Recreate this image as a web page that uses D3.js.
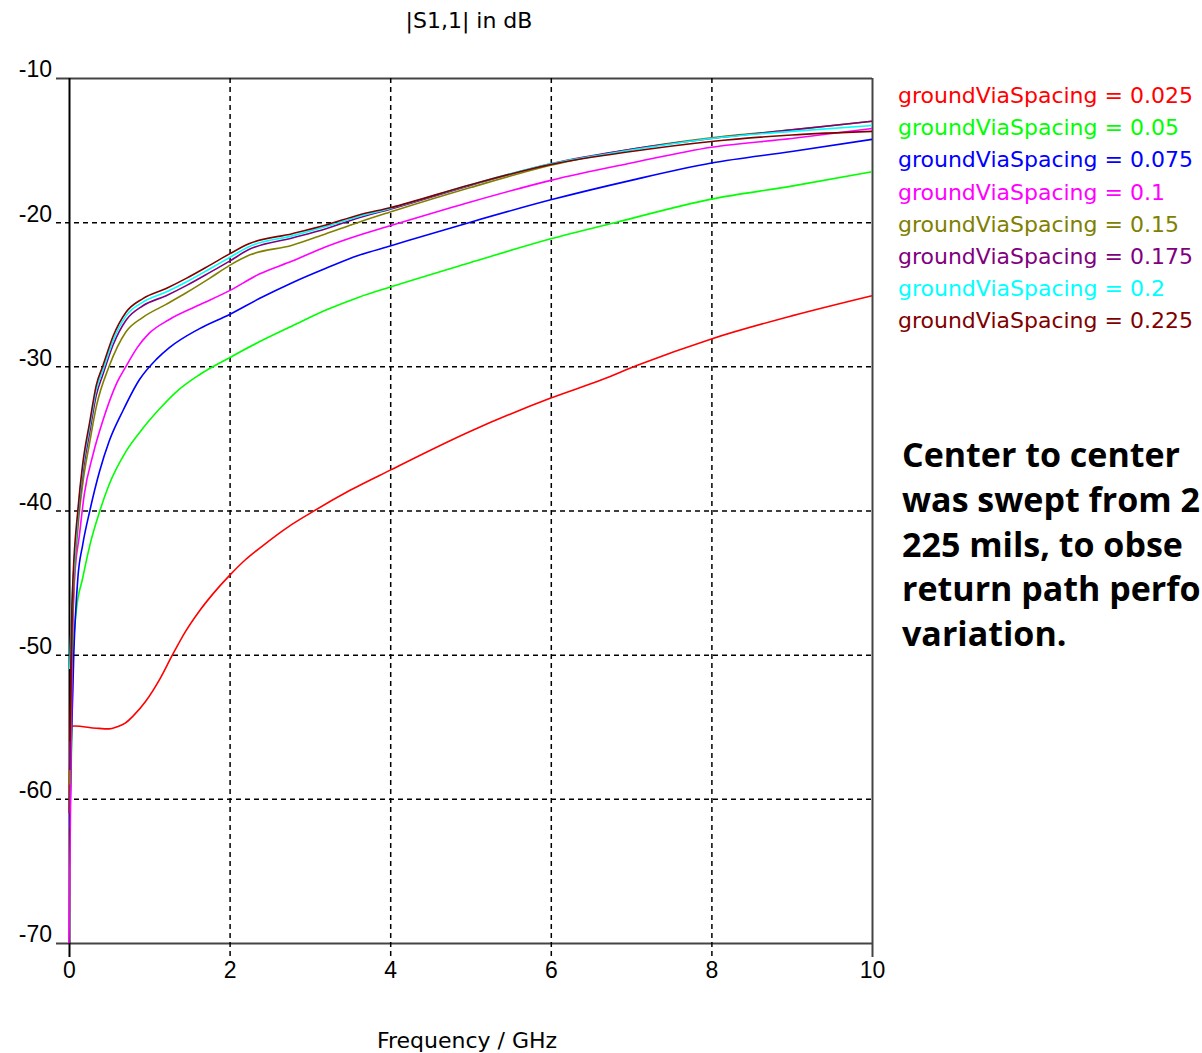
<!DOCTYPE html>
<html>
<head>
<meta charset="utf-8">
<script src="https://cdn.jsdelivr.net/npm/d3@7"></script>
<style>
  body { margin: 0; background: #fff; overflow: hidden; }
  svg { display: block; }
</style>
</head>
<body>
<div class="S11Chart"></div>
<script>
// series labels and colours (legend order)
const spacings = ["0.025", "0.05", "0.075", "0.1", "0.15", "0.175", "0.2", "0.225"];
const colors = ["#ff0000", "#00ff00", "#0000ff", "#ff00ff", "#808000", "#800080", "#00ffff", "#800000"];

// [frequency GHz, |S1,1| dB]
const s025 = [[0,-61],[0.02,-55],[0.07,-54.95],[0.34,-55.1],[0.5,-55.15],[0.6,-55.0],[0.7,-54.75],[0.8,-54.25],[0.96,-53.2],[1.12,-51.8],[1.29,-50.0],[1.45,-48.4],[1.62,-47.0],[1.79,-45.8],[2.0,-44.5],[2.2,-43.4],[2.4,-42.5],[2.74,-41.1],[3.0,-40.2],[3.5,-38.6],[4.0,-37.2],[5.0,-34.5],[6.0,-32.2],[6.65,-30.9],[7.07,-29.95],[8.0,-28.1],[9.0,-26.5],[10,-25.1]];
const s050 = [[0.01,-61],[0.03,-57],[0.05,-50.1],[0.09,-47.0],[0.17,-44.7],[0.26,-42.4],[0.38,-40.1],[0.5,-38.2],[0.71,-35.9],[0.92,-34.3],[1.12,-33.0],[1.33,-31.8],[1.62,-30.6],[2.0,-29.4],[2.37,-28.3],[2.78,-27.2],[3.2,-26.1],[3.61,-25.2],[4.0,-24.5],[5.0,-22.8],[6.0,-21.15],[6.82,-20.0],[8.0,-18.4],[9.0,-17.5],[10,-16.5]];
const s075 = [[0.01,-62],[0.03,-56],[0.06,-49.9],[0.11,-44.7],[0.17,-42.4],[0.26,-40],[0.38,-37.3],[0.5,-35.2],[0.67,-33.1],[0.88,-30.9],[1.09,-29.5],[1.25,-28.7],[1.62,-27.4],[2.0,-26.4],[2.37,-25.3],[2.78,-24.2],[3.2,-23.2],[3.61,-22.3],[4.0,-21.65],[5.0,-20.0],[6.0,-18.45],[7.0,-17.1],[8.0,-15.9],[9.0,-15.1],[10,-14.26]];
const s100 = [[0,-70],[0.02,-60],[0.04,-50],[0.07,-44.7],[0.13,-41.7],[0.19,-38.9],[0.3,-36.1],[0.42,-33.8],[0.6,-31.1],[0.71,-30.0],[0.85,-28.7],[1.0,-27.7],[1.25,-26.75],[1.62,-25.75],[2.0,-24.75],[2.37,-23.6],[2.78,-22.7],[3.2,-21.7],[3.61,-20.9],[4.0,-20.25],[5.0,-18.6],[6.0,-17.1],[7.0,-15.9],[8.0,-14.8],[9.0,-14.2],[10,-13.5]];
const s150 = [[0.01,-59],[0.03,-52],[0.05,-47],[0.11,-41.3],[0.17,-38.2],[0.26,-35.2],[0.34,-32.8],[0.5,-30.0],[0.71,-27.6],[0.92,-26.6],[1.21,-25.7],[1.46,-24.9],[1.75,-23.9],[2.0,-23.0],[2.24,-22.3],[2.78,-21.6],[3.2,-20.8],[3.61,-20.0],[4.0,-19.3],[5.0,-17.6],[6.0,-16.05],[7.0,-14.95],[8.0,-14.15],[9.0,-13.6],[10,-13.0]];
const s175 = [[0.01,-58],[0.03,-50],[0.05,-45.5],[0.11,-40.6],[0.17,-37.5],[0.26,-34.5],[0.34,-32.0],[0.42,-30.6],[0.55,-28.5],[0.71,-26.8],[0.92,-25.8],[1.21,-25.1],[1.46,-24.4],[1.75,-23.5],[2.0,-22.7],[2.24,-21.9],[2.78,-21.1],[3.2,-20.45],[3.61,-19.7],[4.0,-19.1],[5.0,-17.45],[6.0,-15.95],[7.0,-14.95],[8.0,-14.2],[9.0,-13.6],[10,-13.0]];
const s200 = [[0.01,-51],[0.03,-47],[0.05,-45],[0.11,-40.3],[0.17,-37.1],[0.26,-34.1],[0.34,-31.6],[0.42,-30.3],[0.55,-28.2],[0.71,-26.5],[0.92,-25.55],[1.21,-24.85],[1.46,-24.15],[1.75,-23.25],[2.0,-22.45],[2.24,-21.7],[2.78,-20.95],[3.2,-20.3],[3.61,-19.6],[4.0,-19.05],[5.0,-17.4],[6.0,-15.95],[7.0,-15.0],[8.0,-14.2],[9.0,-13.7],[10,-13.3]];
const s225 = [[0.01,-56],[0.03,-48],[0.05,-44.7],[0.11,-40],[0.17,-36.8],[0.26,-33.8],[0.34,-31.3],[0.42,-30.0],[0.55,-27.9],[0.71,-26.25],[0.92,-25.3],[1.21,-24.6],[1.46,-23.9],[1.75,-23.0],[2.0,-22.2],[2.24,-21.5],[2.78,-20.8],[3.2,-20.2],[3.61,-19.5],[4.0,-19.0],[5.0,-17.4],[6.0,-16.0],[7.0,-15.1],[8.0,-14.4],[9.0,-13.95],[10,-13.7]];

const xTicks = [0, 2, 4, 6, 8, 10];
const yTicks = [-10, -20, -30, -40, -50, -60, -70];
// the note runs off the right edge of the page in the picture; only the visible part is kept
const noteLines = ["Center to center", "was swept from 2", "225 mils, to obse", "return path perfo", "variation."];

const allSeries = [s025, s050, s075, s100, s150, s175, s200, s225];

/* Dimensions */
const width = 1202, height = 1053;
const margin = { top: 78, left: 69, right: 330, bottom: 110 };
const plotRight = width - margin.right;        // 872
const plotBottom = height - margin.bottom;    // 943

/* Scales */
const xScale = d3.scaleLinear().domain([0, 10]).range([margin.left, plotRight]);
const yScale = d3.scaleLinear().domain([-10, -70]).range([margin.top, plotBottom]);

const svg = d3.select(".S11Chart").append("svg")
    .attr("width", width)
    .attr("height", height)
    .style("font-family", "'DejaVu Sans', sans-serif");

// Y axis with grid lines (they stick out left of the plot a bit)
const yAxis = svg.append("g")
    .attr("transform", `translate(56,0)`)
    .call(d3.axisLeft(yScale).tickValues(yTicks).tickSize(-(plotRight - 56)).tickPadding(4).tickFormat(d => d));
yAxis.select(".domain").remove();
yAxis.selectAll(".tick line")
    .attr("stroke", d => (d === -10 || d === -70) ? "#444" : "#000")
    .attr("stroke-width", d => (d === -10 || d === -70) ? 2 : 1.5)
    .attr("stroke-dasharray", d => (d === -10 || d === -70) ? null : "5,4");
yAxis.selectAll(".tick text")
    .attr("dy", "-0.05em")
    .style("font-size", "23px")
    .style("fill", "#000");

// X axis with grid lines
const xAxis = svg.append("g")
    .attr("transform", `translate(0,${margin.top})`)
    .call(d3.axisBottom(xScale).tickValues(xTicks).tickSize(957 - margin.top).tickPadding(5));
xAxis.select(".domain").remove();
xAxis.selectAll(".tick line")
    .attr("stroke", d => d === 10 ? "#444" : "#000")
    .attr("stroke-width", d => (d === 0 || d === 10) ? 2 : 1.5)
    .attr("stroke-dasharray", d => (d === 0 || d === 10) ? null : "5,4");
xAxis.selectAll(".tick text")
    .style("font-size", "23px")
    .style("fill", "#000");

// curves
const line = d3.line()
    .x(d => xScale(d[0]))
    .y(d => yScale(d[1]))
    .curve(d3.curveMonotoneX);

svg.append("g")
  .selectAll("path")
  .data(allSeries)
  .join("path")
    .attr("fill", "none")
    .attr("stroke", (d, i) => colors[i])
    .attr("stroke-width", 1.6)
    .attr("d", line);

// Title and x label
svg.append("text")
    .attr("x", 469).attr("y", 28)
    .attr("text-anchor", "middle")
    .style("font-size", "22px")
    .text("|S1,1| in dB");

svg.append("text")
    .attr("x", 467).attr("y", 1048)
    .attr("text-anchor", "middle")
    .style("font-size", "22px")
    .text("Frequency / GHz");

// Legend
svg.append("g")
  .selectAll("text")
  .data(spacings)
  .join("text")
    .attr("x", 898)
    .attr("y", (d, i) => 103 + i * 32.2)
    .style("font-size", "22px")
    .style("fill", (d, i) => colors[i])
    .text(d => `groundViaSpacing = ${d}`);

// Note
svg.append("g")
  .selectAll("text")
  .data(noteLines)
  .join("text")
    .attr("x", 902)
    .attr("y", (d, i) => 467 + i * 44.8)
    .style("font-family", "'Open Sans', sans-serif")
    .style("font-weight", "bold")
    .style("font-size", "34px")
    .style("fill", "#000")
    .text(d => d);
</script>
</body>
</html>
